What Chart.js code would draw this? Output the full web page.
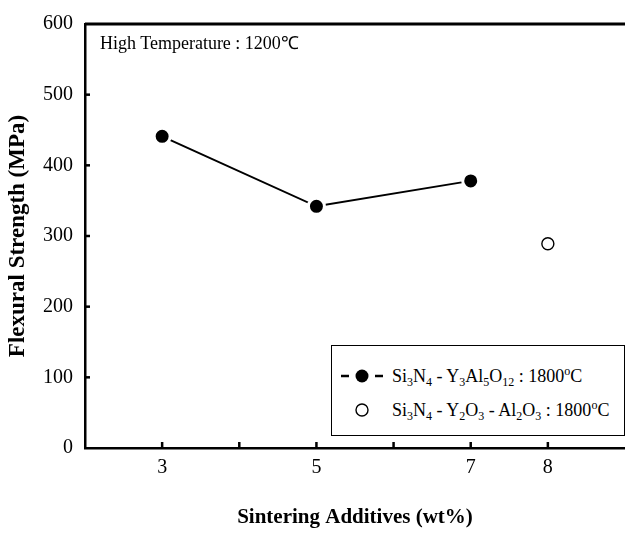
<!DOCTYPE html>
<html lang="en">
<head>
  <meta charset="UTF-8">
  <title>Flexural Strength vs Sintering Additives</title>
  <script src="https://cdn.jsdelivr.net/npm/chart.js"></script>
  <style>
    body {
      margin: 0;
      background: #fff;
    }
    #wrap {
      position: relative;
      width: 625px;
      height: 533px;
    }
    #note {
      position: absolute;
      left: 100px;
      top: 30px;
      font-family: "Liberation Serif", serif;
      font-size: 18px;
      color: #000;
      white-space: nowrap;
    }
    #legend {
      position: absolute;
      left: 331px;
      top: 345px;
      width: 292px;
      height: 89px;
      border: 1px solid #000;
      font-family: "Liberation Serif", serif;
      font-size: 18px;
      color: #000;
      background: #fff;
    }
    .row {
      position: absolute;
      left: 8px;
      height: 20px;
      display: flex;
      align-items: center;
      white-space: nowrap;
    }
    .row svg { margin-right: 8px; }
    sub { font-size: 12px; vertical-align: -4px; line-height: 0; color: #000; }
    sup { font-size: 12px; vertical-align: 7px; line-height: 0; color: #000; }
  </style>
</head>
<body>
<div id="wrap">
  <canvas id="strengthChart" width="625" height="533"></canvas>
  <div id="note">High Temperature : 1200℃</div>
  <div id="legend">
    <div class="row" style="top:20px">
      <svg width="44" height="16"><line x1="1" y1="8" x2="9" y2="8" stroke="#000" stroke-width="2.5"/><circle cx="22" cy="8" r="6.5" fill="#000"/><line x1="35" y1="8" x2="43" y2="8" stroke="#000" stroke-width="2.5"/></svg>
      <span>Si<sub>3</sub>N<sub>4</sub> - Y<sub>3</sub>Al<sub>5</sub>O<sub>12</sub> : 1800<sup>o</sup>C</span>
    </div>
    <div class="row" style="top:54px">
      <svg width="44" height="16"><circle cx="22" cy="8" r="6" fill="#fff" stroke="#000" stroke-width="1.4"/></svg>
      <span>Si<sub>3</sub>N<sub>4</sub> - Y<sub>2</sub>O<sub>3</sub> - Al<sub>2</sub>O<sub>3</sub> : 1800<sup>o</sup>C</span>
    </div>
  </div>
</div>

<script>
  // x axis is evenly spaced categories; only some carry a label
  const xTickLabels = ['', '3', '', '5', '', '7', '8', ''];

  const yagAdditive = ['3', '5', '7'];
  const yagStrength = [441, 342, 378];

  const oxideAdditive = ['8'];
  const oxideStrength = [289];

  const yMin = 0;
  const yMax = 600;
  const yStep = 100;

  const serif = '"Liberation Serif", "Times New Roman", serif';

  // inward tick marks and the top frame line
  const frameTicks = {
    id: 'frameTicks',
    afterDraw(chart) {
      const { ctx, chartArea, scales } = chart;
      ctx.save();
      ctx.strokeStyle = '#000';
      ctx.lineWidth = 3;
      ctx.beginPath();
      ctx.moveTo(chartArea.left, chartArea.top);
      ctx.lineTo(chartArea.right, chartArea.top);
      ctx.stroke();

      ctx.lineWidth = 2.5;
      const xs = scales.x;
      for (let i = 1; i < xs.ticks.length - 1; i++) {
        const px = xs.getPixelForTick(i);
        ctx.beginPath();
        ctx.moveTo(px, chartArea.bottom);
        ctx.lineTo(px, chartArea.bottom - 6);
        ctx.stroke();
      }
      const ys = scales.y;
      for (let i = 1; i < ys.ticks.length - 1; i++) {
        const py = ys.getPixelForTick(i);
        ctx.beginPath();
        ctx.moveTo(chartArea.left, py);
        ctx.lineTo(chartArea.left + 5, py);
        ctx.stroke();
      }
      ctx.restore();
    }
  };

  const ctx = document.getElementById('strengthChart').getContext('2d');

  new Chart(ctx, {
    type: 'line',
    data: {
      labels: xTickLabels,
      datasets: [
        {
          label: 'Si3N4 - Y3Al5O12 : 1800°C',
          data: yagAdditive.map((x, i) => ({ x: x, y: yagStrength[i] })),
          borderColor: '#000',
          borderWidth: 2,
          pointRadius: 8,
          pointBackgroundColor: '#000',
          pointBorderColor: '#fff',
          pointBorderWidth: 3,
          tension: 0
        },
        {
          label: 'Si3N4 - Y2O3 - Al2O3 : 1800°C',
          data: oxideAdditive.map((x, i) => ({ x: x, y: oxideStrength[i] })),
          showLine: false,
          borderColor: '#000',
          pointRadius: 6,
          pointBackgroundColor: '#fff',
          pointBorderColor: '#000',
          pointBorderWidth: 1.4
        }
      ]
    },
    options: {
      responsive: false,
      animation: false,
      layout: {
        autoPadding: false,
        padding: { top: 18, right: 0, left: 0, bottom: 0 }
      },
      plugins: {
        legend: { display: false },
        tooltip: { enabled: false }
      },
      scales: {
        x: {
          type: 'category',
          offset: false,
          grid: { display: false, drawTicks: false },
          border: { color: '#000', width: 2.5 },
          ticks: {
            color: '#000',
            font: { family: serif, size: 20 },
            padding: 8,
            autoSkip: false,
            maxRotation: 0
          },
          title: {
            display: true,
            text: 'Sintering Additives (wt%)',
            color: '#000',
            font: { family: serif, size: 21, weight: 'bold' },
            padding: { top: 0, bottom: 3 }
          },
          afterFit(scale) {
            scale.height = 85;
            scale.paddingLeft = 0;
            scale.paddingRight = 0;
          }
        },
        y: {
          min: yMin,
          max: yMax,
          grid: { display: false, drawTicks: false },
          border: { color: '#000', width: 2.5 },
          ticks: {
            stepSize: yStep,
            color: '#000',
            font: { family: serif, size: 20 },
            padding: 12
          },
          title: {
            display: true,
            text: 'Flexural Strength (MPa)',
            color: '#000',
            font: { family: serif, size: 23, weight: 'bold' },
            padding: { top: 4, bottom: 0 }
          },
          afterFit(scale) { scale.width = 85; }
        }
      }
    },
    plugins: [frameTicks]
  });
</script>
</body>
</html>
